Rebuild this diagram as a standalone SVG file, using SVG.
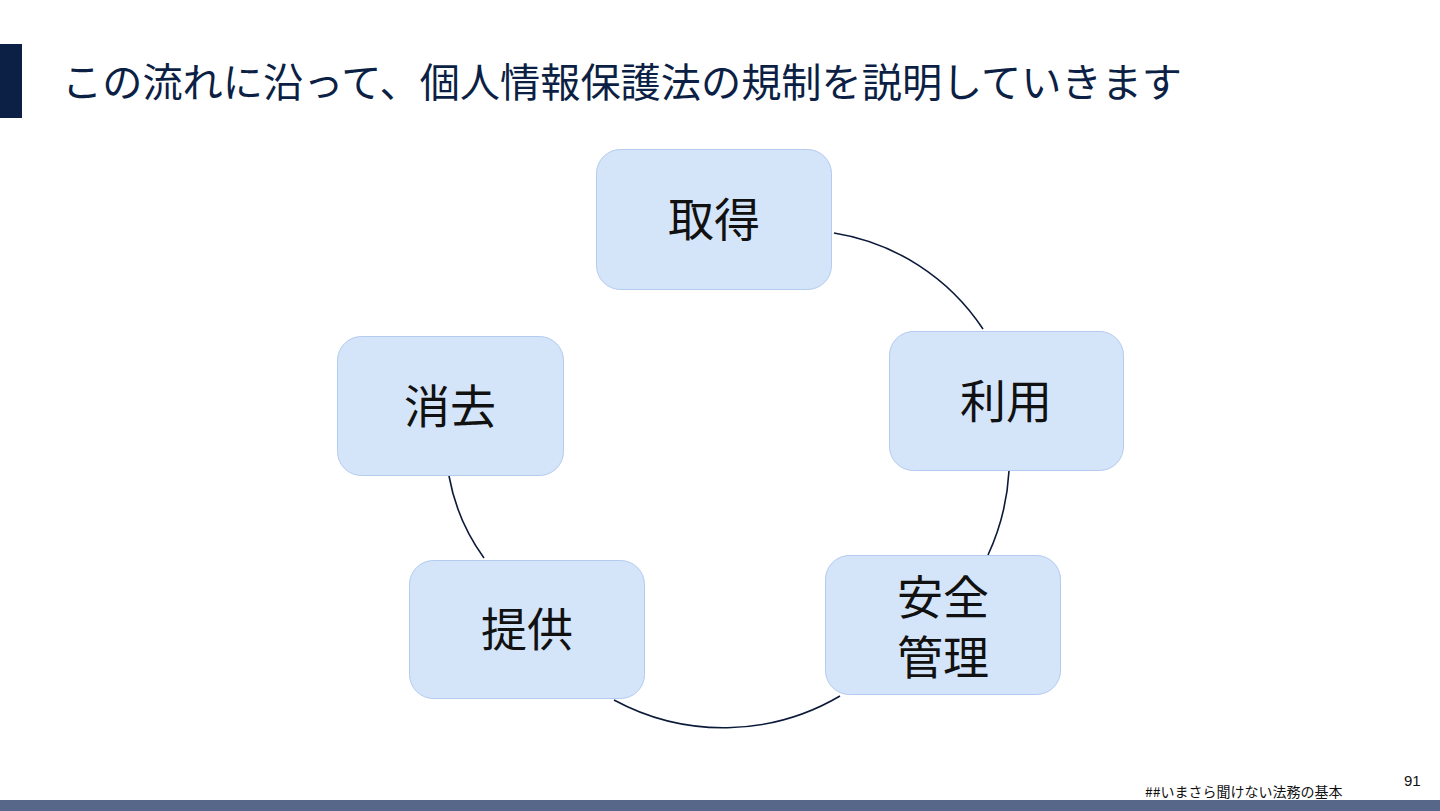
<svg xmlns="http://www.w3.org/2000/svg" width="1440" height="811" viewBox="0 0 1440 811">
<style>
.box{fill:#d5e5f9;stroke:#b3cbee;stroke-width:1}
.lbl{font-family:"Noto Sans CJK JP","Noto Sans",sans-serif;font-size:46px;fill:#111111;text-anchor:middle}
.arc{fill:none;stroke:#0c1a3a;stroke-width:1.6}
</style>
<rect x="0" y="0" width="1440" height="811" fill="#ffffff"/>
<rect x="0" y="44" width="22" height="74" fill="#0c1f45"/>
<text x="62" y="97" font-family="'Noto Sans CJK JP','Noto Sans',sans-serif" font-size="40.2" fill="#0c1f45">この流れに沿って、個人情報保護法の規制を説明していきます</text>
<g id="connectors">
<path class="arc" d="M834,233 A220,220 0 0 1 983,329"/>
<path class="arc" d="M1009,471 A230,230 0 0 1 988,555"/>
<path class="arc" d="M840,696 A230,230 0 0 1 614,700"/>
<path class="arc" d="M484,558 A200,200 0 0 1 449,476"/>
</g>
<g id="node-shutoku">
<rect class="box" x="596.5" y="149.5" width="235" height="140" rx="24"/>
<text class="lbl" x="714" y="236">取得</text>
</g>
<g id="node-riyou">
<rect class="box" x="889.5" y="331.5" width="234" height="139" rx="24"/>
<text class="lbl" x="1006" y="418">利用</text>
</g>
<g id="node-anzen">
<rect class="box" x="825.5" y="555.5" width="235" height="139" rx="24"/>
<text class="lbl" x="943" y="614">安全</text>
<text class="lbl" x="943" y="674">管理</text>
</g>
<g id="node-teikyou">
<rect class="box" x="409.5" y="560.5" width="235" height="138" rx="24"/>
<text class="lbl" x="527" y="646">提供</text>
</g>
<g id="node-shoukyo">
<rect class="box" x="337.5" y="336.5" width="226" height="139" rx="24"/>
<text class="lbl" x="450" y="423">消去</text>
</g>
<rect x="0" y="800" width="1440" height="11" fill="#56678a"/>
<text x="1145" y="797" font-family="'Noto Sans CJK JP','Noto Sans',sans-serif" font-size="14" fill="#111111">##いまさら聞けない法務の基本</text>
<text x="1404" y="786" font-family="'Liberation Sans',Arial,sans-serif" font-size="15" fill="#111111">91</text>
</svg>
